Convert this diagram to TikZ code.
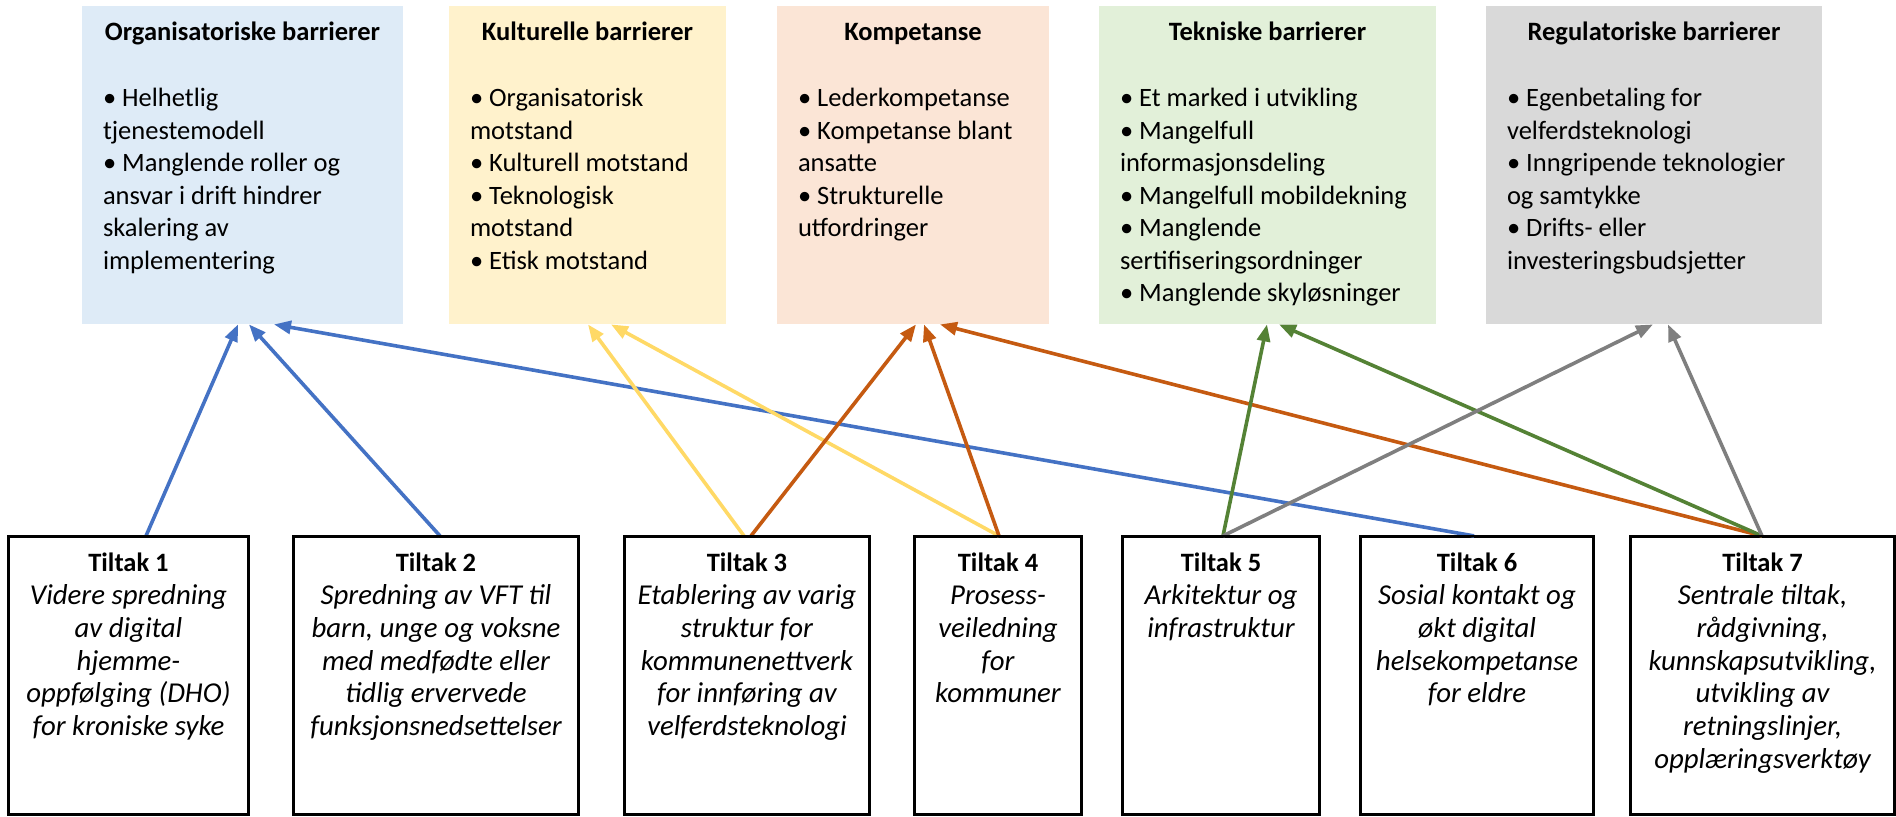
\documentclass[tikz,border=0pt]{standalone}
\usepackage{fontspec}
\setmainfont{Carlito}
\usetikzlibrary{calc}
\usetikzlibrary{arrows.meta}
\tikzset{>={Triangle[length=8.5pt,width=6.5pt]}}
\definecolor{orgfill}{HTML}{DEEBF7}
\definecolor{kulfill}{HTML}{FFF2CC}
\definecolor{kompfill}{HTML}{FBE5D6}
\definecolor{tekfill}{HTML}{E2F0D9}
\definecolor{regfill}{HTML}{D9D9D9}
\definecolor{orgline}{HTML}{4472C4}
\definecolor{kulline}{HTML}{FFD966}
\definecolor{kompline}{HTML}{C55A11}
\definecolor{tekline}{HTML}{548235}
\definecolor{regline}{HTML}{7F7F7F}
\newcommand\diagfont{\fontsize{13.25pt}{16.25pt}\selectfont}
\newcommand\tilfont{\fontsize{14.4pt}{16.45pt}\selectfont\itshape}
\newcommand\tilhead[1]{{\fontsize{13.25pt}{16.45pt}\selectfont\bfseries\upshape #1}}
\tikzstyle{barrier}=[inner sep=0pt,minimum height=159pt]
\tikzstyle{barhead}=[inner sep=0pt,anchor=base,font=\diagfont\bfseries]
\tikzstyle{barbody}=[inner sep=0pt,anchor=north west,align=left,font=\diagfont]
\tikzstyle{tiltak}=[draw=black,line width=1.1pt,inner sep=0pt,minimum height=138.5pt]
\tikzstyle{tiltext}=[inner sep=0pt,anchor=north,align=center,font=\tilfont]
\tikzstyle{link}=[->,line width=1.8pt]

\begin{document}
\begin{tikzpicture}[x=0.5pt,y=-0.5pt]

  \useasboundingbox (0,0) rectangle (1896,816);

  % barrier boxes
  \node[barrier,fill=orgfill,minimum width=160.5pt] (org) at (242.5,165) {};
  \node[barrier,fill=kulfill,minimum width=138.5pt] (kul) at (587.5,165) {};
  \node[barrier,fill=kompfill,minimum width=136pt] (komp) at (913,165) {};
  \node[barrier,fill=tekfill,minimum width=168.5pt] (tek) at (1267.5,165) {};
  \node[barrier,fill=regfill,minimum width=168pt] (reg) at (1654,165) {};

  % barrier texts
  \node[barhead] (orghead) at ($(org.north)+(0,35)$) {Organisatoriske barrierer};
  \node[barbody] (orgbody) at ($(org.north west)+(21,78)$)
    {\strut• Helhetlig\\tjenestemodell\\• Manglende roller og\\ansvar i drift hindrer\\skalering av\\implementering};
  \node[barhead] (kulhead) at ($(kul.north)+(0,35)$) {Kulturelle barrierer};
  \node[barbody] (kulbody) at ($(kul.north west)+(21,78)$)
    {\strut• Organisatorisk\\motstand\\• Kulturell motstand\\• Teknologisk\\motstand\\• Etisk motstand};
  \node[barhead] (komphead) at ($(komp.north)+(0,35)$) {Kompetanse};
  \node[barbody] (kompbody) at ($(komp.north west)+(21,78)$)
    {\strut• Lederkompetanse\\• Kompetanse blant\\ansatte\\• Strukturelle\\utfordringer};
  \node[barhead] (tekhead) at ($(tek.north)+(0,35)$) {Tekniske barrierer};
  \node[barbody] (tekbody) at ($(tek.north west)+(21,78)$)
    {\strut• Et marked i utvikling\\• Mangelfull\\informasjonsdeling\\• Mangelfull mobildekning\\• Manglende\\sertifiseringsordninger\\• Manglende skyløsninger};
  \node[barhead] (reghead) at ($(reg.north)+(0,35)$) {Regulatoriske barrierer};
  \node[barbody] (regbody) at ($(reg.north west)+(21,78)$)
    {\strut• Egenbetaling for\\velferdsteknologi\\• Inngripende teknologier\\og samtykke\\• Drifts- eller\\investeringsbudsjetter};

  % tiltak boxes
  \node[tiltak,minimum width=119.5pt] (t1) at (128.5,675.5) {};
  \node[tiltak,minimum width=142pt] (t2) at (436,675.5) {};
  \node[tiltak,minimum width=122pt] (t3) at (747,675.5) {};
  \node[tiltak,minimum width=83pt] (t4) at (998,675.5) {};
  \node[tiltak,minimum width=98pt] (t5) at (1221,675.5) {};
  \node[tiltak,minimum width=116pt] (t6) at (1477,675.5) {};
  \node[tiltak,minimum width=131.5pt] (t7) at (1762.5,675.5) {};

  % links
  \draw[link,orgline] ($(t1.north)+(17.5,0)$) -- ($(org.south)+(-4.5,0)$);
  \draw[link,orgline] ($(t2.north)+(4,0)$) -- ($(org.south)+(6.5,0)$);
  \draw[link,orgline] ($(t6.north)+(-3,0)$) -- ($(org.south)+(31.5,0)$);
  \draw[link,kulline] ($(t3.north)+(-3,0)$) -- ($(kul.south)+(0.5,0)$);
  \draw[link,kulline] ($(t4.north)+(1,0)$) -- ($(kul.south)+(23.5,0)$);
  \draw[link,kompline] ($(t3.north)+(4,0)$) -- ($(komp.south)+(3,0)$);
  \draw[link,kompline] ($(t4.north)+(1,0)$) -- ($(komp.south)+(11,0)$);
  \draw[link,kompline] ($(t7.north)+(-0.5,0)$) -- ($(komp.south)+(27,0)$);
  \draw[link,tekline] ($(t5.north)+(2,0)$) -- ($(tek.south)+(-0.5,0)$);
  \draw[link,tekline] ($(t7.north)+(-0.5,0)$) -- ($(tek.south)+(11.5,0)$);
  \draw[link,regline] ($(t5.north)+(2,0)$) -- ($(reg.south)+(-1,0)$);
  \draw[link,regline] ($(t7.north)+(-0.5,0)$) -- ($(reg.south)+(14,0)$);

  % redraw tiltak frames over link ends + texts
  \foreach \t in {t1,t2,t3,t4,t5,t6,t7}
    \draw[line width=1.1pt] (\t.north west) rectangle (\t.south east);
  \node[tiltext] (t1text) at ($(t1.north)+(0,12)$)
    {\strut\tilhead{Tiltak 1}\\Videre spredning\\av digital\\hjemme-\\oppfølging (DHO)\\for kroniske syke};
  \node[tiltext] (t2text) at ($(t2.north)+(0,12)$)
    {\strut\tilhead{Tiltak 2}\\Spredning av VFT til\\barn, unge og voksne\\med medfødte eller\\tidlig ervervede\\funksjonsnedsettelser};
  \node[tiltext] (t3text) at ($(t3.north)+(0,12)$)
    {\strut\tilhead{Tiltak 3}\\Etablering av varig\\struktur for\\kommunenettverk\\for innføring av\\velferdsteknologi};
  \node[tiltext] (t4text) at ($(t4.north)+(0,12)$)
    {\strut\tilhead{Tiltak 4}\\Prosess-\\veiledning\\for\\kommuner};
  \node[tiltext] (t5text) at ($(t5.north)+(0,12)$)
    {\strut\tilhead{Tiltak 5}\\Arkitektur og\\infrastruktur};
  \node[tiltext] (t6text) at ($(t6.north)+(0,12)$)
    {\strut\tilhead{Tiltak 6}\\Sosial kontakt og\\økt digital\\helsekompetanse\\for eldre};
  \node[tiltext] (t7text) at ($(t7.north)+(0,12)$)
    {\strut\tilhead{Tiltak 7}\\Sentrale tiltak,\\rådgivning,\\kunnskapsutvikling,\\utvikling av\\retningslinjer,\\opplæringsverktøy};

\end{tikzpicture}
\end{document}
